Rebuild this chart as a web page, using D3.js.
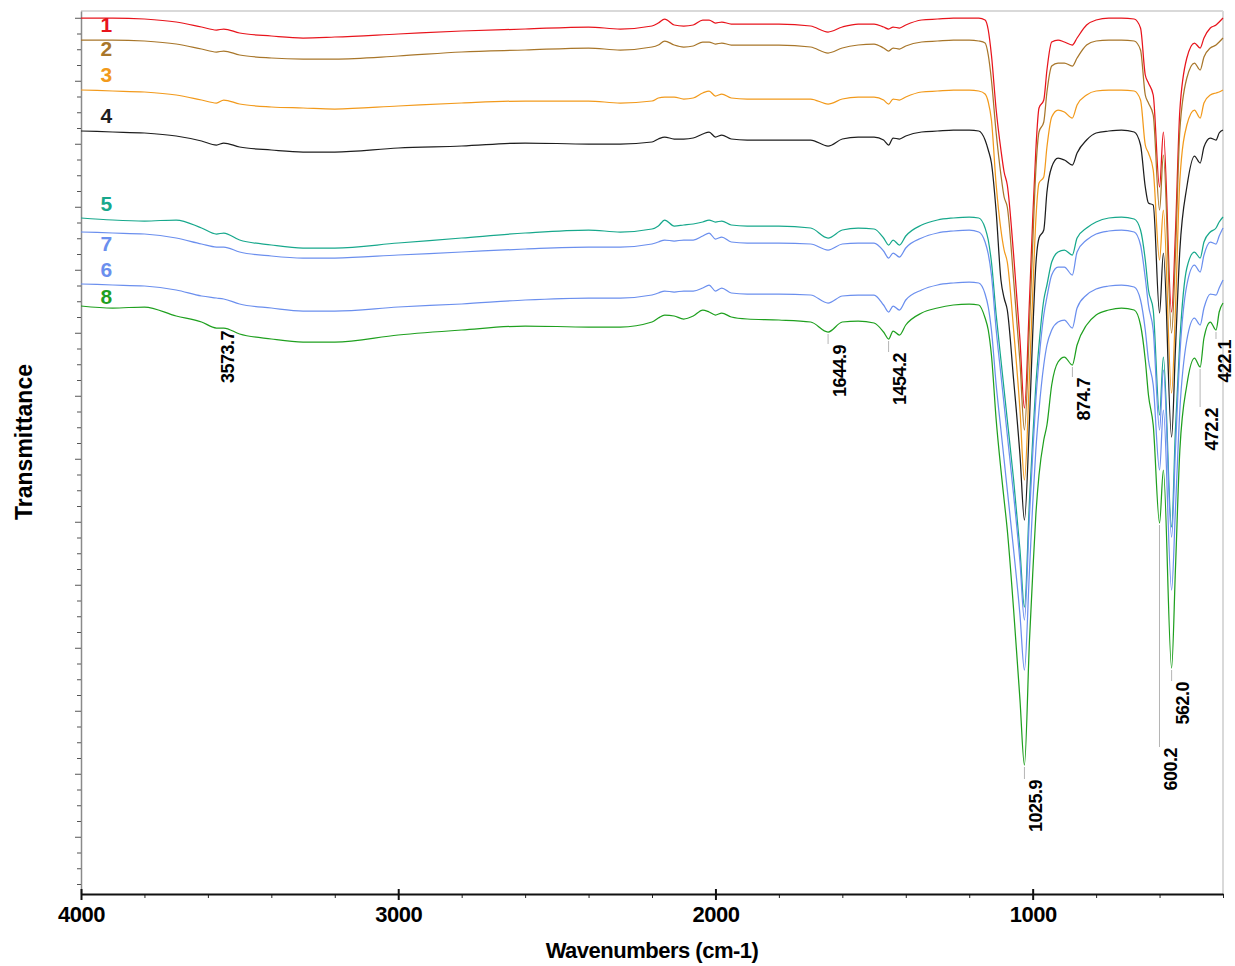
<!DOCTYPE html>
<html><head><meta charset="utf-8">
<script src="https://cdn.jsdelivr.net/npm/d3@7"></script>
<style>
body{margin:0;background:#fff}
svg{display:block}
text{font-family:"Liberation Sans",Arial,Helvetica,sans-serif;font-weight:bold}
</style>
</head><body>
<svg id="chart" width="1235" height="966"></svg>
<script>
// ---------------- DATA ----------------
const wavenumbers = [
 4000,3900,3800,3700,3620,3573,3550,3500,3400,3300,
 3200,3000,2800,2600,2400,2300,2200,2180,2160,2130,
 2100,2070,2040,2020,2000,1980,1950,1900,1800,1700,
 1645,1600,1550,1500,1470,1454,1440,1420,1400,1350,
 1300,1250,1200,1170,1150,1140,1130,1115,1100,1090,
 1080,1060,1040,1026,1010,1000,990,980,965,955,
 940,920,900,875,860,830,800,760,720,680,
 660,645,635,620,600,588,562,550,536,514,
 490,472,460,440,422,412,400];

const s1 = [
 87.6,87.6,87.5,87.2,86.7,86.4,86.5,86.1,85.8,85.6,
 85.7,86.0,86.3,86.5,86.7,86.5,86.8,87.1,87.5,86.9,
 86.8,86.9,87.4,87.4,87.1,87.2,87.0,87.0,87.0,86.8,
 86.2,86.7,87.0,87.0,86.7,86.5,86.7,86.6,86.9,87.4,
 87.5,87.6,87.6,87.6,87.4,86.4,83.9,78.4,74.4,72.2,
 70.9,63.9,55.4,48.6,59.4,67.4,74.4,78.6,79.4,82.4,
 85.2,85.4,85.2,84.9,85.6,86.9,87.4,87.6,87.6,87.5,
 86.6,81.9,81.1,79.9,70.7,76.2,58.2,66.1,78.4,83.6,
 85.1,84.6,85.6,86.6,86.9,87.2,87.6];

const s2 = [
 85.4,85.4,85.3,85.0,84.5,84.2,84.3,83.9,83.6,83.5,
 83.5,83.8,84.2,84.4,84.6,84.4,84.7,84.9,85.3,84.9,
 84.7,84.8,85.2,85.2,85.0,85.1,84.9,84.9,84.9,84.7,
 84.1,84.6,84.9,85.0,84.6,84.3,84.6,84.5,84.8,85.2,
 85.3,85.4,85.4,85.3,85.1,83.9,81.4,76.1,71.9,69.7,
 68.7,61.4,53.2,46.4,56.9,64.9,72.4,76.2,77.2,80.2,
 82.8,83.1,83.1,82.8,83.6,84.9,85.3,85.4,85.4,85.3,
 84.4,79.9,79.1,77.9,68.4,73.9,56.1,63.9,76.4,81.6,
 83.1,82.4,83.7,84.6,84.9,85.2,85.6];

const s3 = [
 80.4,80.3,80.2,79.9,79.4,79.1,79.4,79.0,78.7,78.6,
 78.5,78.8,79.1,79.3,79.3,79.1,79.3,79.6,79.7,79.7,
 79.5,79.6,80.1,80.3,79.8,80.0,79.6,79.5,79.5,79.5,
 79.0,79.5,79.7,79.7,79.4,79.0,79.5,79.4,79.7,80.2,
 80.3,80.4,80.4,80.3,80.0,79.2,77.4,70.9,66.4,64.4,
 63.2,56.4,48.4,41.4,51.9,59.9,67.4,71.1,71.7,74.7,
 77.7,78.4,78.2,77.6,78.9,79.9,80.3,80.4,80.4,80.3,
 79.4,74.9,74.1,72.4,63.4,68.4,50.1,58.4,71.4,76.9,
 78.4,77.6,79.1,79.9,80.1,80.2,80.4];

const s4 = [
 76.3,76.2,76.1,75.8,75.3,74.9,75.1,74.7,74.4,74.2,
 74.2,74.6,74.8,75.1,75.0,75.0,75.2,75.5,75.7,75.5,
 75.5,75.6,76.0,76.2,75.7,75.9,75.5,75.4,75.4,75.4,
 74.8,75.5,75.7,75.7,75.4,74.9,75.6,75.5,75.8,76.2,
 76.3,76.4,76.4,76.3,75.4,74.4,73.1,68.2,61.4,59.6,
 58.4,51.4,43.9,37.4,47.4,55.9,62.9,65.6,66.4,70.2,
 72.7,73.6,73.4,72.9,74.1,75.4,76.1,76.3,76.4,76.2,
 74.9,70.7,69.1,68.9,58.1,64.1,45.7,54.4,64.4,70.7,
 73.8,73.1,74.7,75.6,75.4,76.1,76.4];

const s5 = [
 67.6,67.4,67.3,67.4,66.6,66.0,66.1,65.4,64.9,64.6,
 64.6,65.1,65.6,66.1,66.4,66.2,66.5,66.8,67.4,66.8,
 66.9,67.0,67.2,67.4,67.2,67.3,66.9,66.8,66.8,66.6,
 65.6,66.4,66.6,66.5,65.6,64.9,65.4,64.9,65.8,66.9,
 67.4,67.6,67.7,67.6,66.6,65.4,63.2,57.9,53.4,50.4,
 47.4,41.4,34.4,28.7,39.4,45.4,50.9,54.9,59.4,60.9,
 63.2,64.2,64.4,63.9,65.6,66.6,67.2,67.6,67.7,67.5,
 66.4,63.4,60.4,58.4,47.9,53.7,36.7,46.4,55.4,62.6,
 64.2,63.6,65.2,66.2,66.6,67.2,67.7];

const s6 = [
 61.0,60.9,60.8,60.4,59.8,59.6,59.5,59.0,58.6,58.3,
 58.3,58.7,59.0,59.4,59.6,59.6,59.9,60.1,60.3,60.2,
 60.3,60.3,60.6,60.9,60.3,60.6,60.1,60.0,60.0,59.9,
 59.1,59.8,59.9,59.9,58.9,58.2,58.8,58.4,59.4,60.4,
 60.9,61.1,61.2,61.1,60.0,58.7,56.4,50.9,46.4,43.4,
 40.4,34.4,27.9,22.4,32.4,38.9,44.4,48.4,52.9,54.9,
 56.4,57.2,57.4,56.6,58.6,59.9,60.5,60.8,60.9,60.7,
 59.4,56.4,53.4,50.9,42.4,48.4,30.4,38.4,48.4,55.4,
 57.6,56.9,58.6,60.0,59.9,60.6,61.4];

const s7 = [
 66.2,66.1,66.0,65.6,65.0,64.7,64.7,64.2,63.8,63.6,
 63.6,63.9,64.2,64.5,64.7,64.7,65.0,65.2,65.4,65.3,
 65.4,65.4,65.8,66.1,65.5,65.7,65.2,65.1,65.1,65.0,
 64.4,65.0,65.1,65.1,64.3,63.6,64.1,63.7,64.6,65.6,
 66.1,66.3,66.4,66.2,65.2,64.0,61.9,56.4,51.9,48.9,
 45.9,39.9,33.2,27.4,37.9,43.9,49.4,53.4,57.9,59.7,
 61.9,62.7,62.7,61.9,64.2,65.4,66.0,66.3,66.4,66.2,
 64.9,61.6,58.9,56.4,46.4,52.4,35.7,44.4,53.9,60.9,
 62.9,62.2,63.9,65.2,65.0,65.8,66.6];

const s8 = [
 58.8,58.6,58.7,57.8,57.2,56.6,56.6,56.0,55.5,55.2,
 55.2,55.9,56.4,56.8,56.7,56.7,57.2,57.6,57.9,57.8,
 57.5,57.8,58.4,58.2,57.9,58.1,57.7,57.5,57.4,57.2,
 56.2,57.2,57.3,57.1,56.2,55.5,56.3,55.9,56.9,58.1,
 58.6,58.9,59.0,58.9,57.6,56.4,53.9,47.4,42.4,39.4,
 36.4,28.4,19.4,12.9,25.4,31.9,37.9,41.9,45.4,46.9,
 50.9,53.2,53.7,52.9,54.9,56.9,57.9,58.4,58.6,58.4,
 56.9,53.4,49.9,46.9,37.1,42.4,22.6,32.4,44.4,50.9,
 53.6,52.7,55.6,57.2,56.4,58.2,59.1];

const seriesNames = ["1","2","3","4","5","6","7","8"];
const seriesLabelValues = [86.2, 83.8, 81.2, 77.1, 68.3, 61.7, 64.3, 59.0];
const peakWavenumbers = [3573.7, 1644.9, 1454.2, 1025.9, 874.7, 600.2, 562.0, 472.2, 422.1];
const peakLabels = ["3573.7","1644.9","1454.2","1025.9","874.7","600.2","562.0","472.2","422.1"];
const xMajorTicks = [4000, 3000, 2000, 1000];
const xMinorTicks = [3800,3600,3400,3200,2800,2600,2400,2200,1800,1600,1400,1200,800,600,400];
const xTickLabels = ["4000","3000","2000","1000"];
const xTitle = "Wavenumbers (cm-1)";
const yTitle = "Transmittance";

// ---------------- STYLE / LAYOUT ----------------
const colors = {"1":"#e8141c","2":"#a8762a","3":"#f29a1c","4":"#1e1e1e",
                "5":"#17a88c","6":"#6b8fee","7":"#6b8fee","8":"#1fa01f"};
const labelDrop = {"3573.7":3,"1644.9":13,"1454.2":14,"1025.9":15,"874.7":13,
                   "600.2":225,"562.0":14,"472.2":41,"422.1":10};
const labelShift = {"422.1":15};
const L = 81, R = 1223, T = 11, B = 894;

const svg = d3.select("#chart");
const x = d3.scaleLinear().domain([4000, 400]).range([L, R]);
const y = d3.scaleLinear().domain([0, 88.3]).range([B, T]);

// frame (top & right light border)
svg.append("line").attr("x1",L).attr("x2",R).attr("y1",T).attr("y2",T)
   .attr("stroke","#d9d9d9").attr("stroke-width",2);
svg.append("line").attr("x1",R).attr("x2",R).attr("y1",T).attr("y2",B)
   .attr("stroke","#d9d9d9").attr("stroke-width",2);

// y axis (no labels)
const yTicks = d3.range(0, 56).map(k => 1 + 1.575 * k);
const yAxisG = svg.append("g").attr("transform", `translate(${L},0)`);
yAxisG.call(d3.axisLeft(y).tickValues(yTicks).tickFormat("").tickSizeOuter(0));
yAxisG.select(".domain").attr("stroke","#8a8a8a").attr("stroke-width",1.5);
yAxisG.selectAll(".tick line")
  .attr("x2", (d,i) => (i % 4 === 3) ? -6 : -4)
  .attr("stroke", "#555").attr("stroke-width", 1);

// x axis
const xMinorG = svg.append("g").attr("transform", `translate(0,${B})`);
xMinorG.call(d3.axisBottom(x).tickValues(xMinorTicks).tickFormat("").tickSize(4).tickSizeOuter(0));
xMinorG.select(".domain").remove();
xMinorG.selectAll(".tick line").attr("stroke","#222").attr("stroke-width",1);

const xAxisG = svg.append("g").attr("transform", `translate(0,${B})`);
xAxisG.call(d3.axisBottom(x).tickValues(xMajorTicks)
  .tickFormat((d,i) => xTickLabels[i]).tickSize(6).tickSizeOuter(0));
xAxisG.select(".domain").attr("stroke","#111").attr("stroke-width",2.2);
xAxisG.selectAll(".tick line").attr("y1",-5).attr("y2",6).attr("stroke","#111").attr("stroke-width",2);
xAxisG.selectAll(".tick text")
  .attr("y", 28).attr("dy", 0)
  .attr("font-size", 22).attr("letter-spacing", "-0.5px")
  .attr("font-family", '"Liberation Sans",Arial,sans-serif')
  .attr("font-weight", "bold").attr("fill", "#000");

// axis titles
svg.append("text").attr("x", 652).attr("y", 958).attr("text-anchor","middle")
   .attr("font-size", 22).attr("letter-spacing","-0.5px").attr("fill","#000").text(xTitle);
svg.append("text").attr("transform","translate(32,442) rotate(-90)").attr("text-anchor","middle")
   .attr("font-size", 23).attr("fill","#000").text(yTitle);

// series
const seriesValues = [s1, s2, s3, s4, s5, s6, s7, s8];
const series = seriesNames.map((n, i) => ({
  name: n,
  points: wavenumbers.map((w, j) => ({w, v: seriesValues[i][j]})),
  labelV: seriesLabelValues[i]
}));
const line = d3.line().x(d => x(d.w)).y(d => y(d.v)).curve(d3.curveMonotoneX);

svg.append("g").selectAll("path").data(series).join("path")
  .attr("d", d => line(d.points))
  .attr("fill","none").attr("stroke", d => colors[d.name])
  .attr("stroke-width", 1.25).attr("stroke-linejoin","round");

// series labels
svg.append("g").selectAll("text").data(series).join("text")
  .attr("x", x(3920)).attr("y", d => y(d.labelV))
  .attr("text-anchor","middle").attr("font-size", 21)
  .attr("fill", d => colors[d.name]).text(d => d.name);

// peak annotations (anchored on lowest trace, series 8)
const lowest = series[7].points;
peakWavenumbers.forEach((pw, i) => {
  let best = lowest[0];
  lowest.forEach(p => { if (Math.abs(p.w - pw) < Math.abs(best.w - pw)) best = p; });
  const px = x(pw);
  const py = y(best.v);
  const lab = peakLabels[i];
  const top = py + labelDrop[lab];
  if (top - py > 5) {
    svg.append("line").attr("x1", px).attr("x2", px)
      .attr("y1", py + 2).attr("y2", top - 1)
      .attr("stroke", "#b5b5b5").attr("stroke-width", 1);
  }
  const shift = labelShift[lab] !== undefined ? labelShift[lab] : 17.5;
  svg.append("text")
    .attr("transform", `translate(${px + shift},${top}) rotate(-90)`)
    .attr("text-anchor","end").attr("font-size", 18).attr("letter-spacing","-0.5px")
    .attr("fill","#000").text(lab);
});
</script>
</body></html>
